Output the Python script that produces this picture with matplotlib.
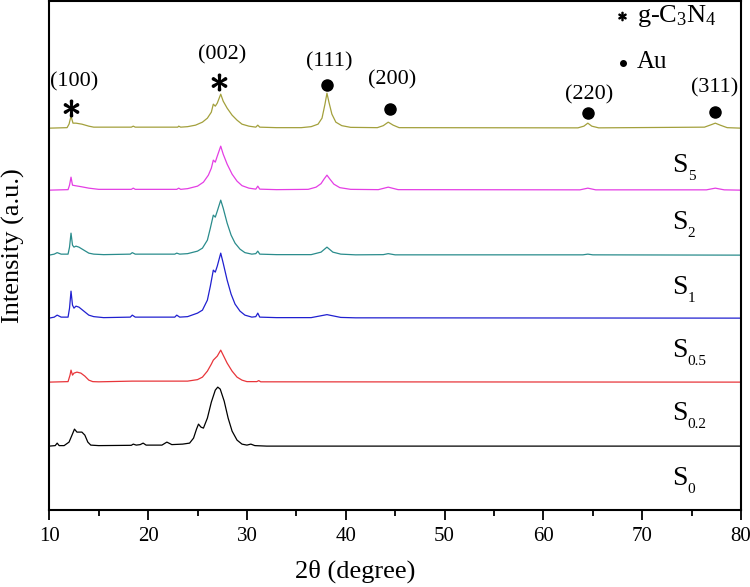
import matplotlib
matplotlib.use('Agg')
import matplotlib.pyplot as plt

plt.rcParams['font.family'] = ['Liberation Serif', 'DejaVu Serif']
plt.rcParams['mathtext.fontset'] = 'custom'
plt.rcParams['mathtext.rm'] = 'Liberation Serif'
plt.rcParams['mathtext.it'] = 'Liberation Serif:italic'

# --- XRD traces: 2theta (degree) and intensity (a.u.) ---
x_s0 = [10, 10.6, 10.8, 11.0, 11.5, 12.0, 12.3, 12.55, 12.8, 13.0, 13.3, 13.6, 13.9, 14.2, 15,
        18.3, 18.5, 18.8, 19.2, 19.5, 19.8, 21.4, 21.9, 22.4, 23.5, 24.2, 24.6, 24.9, 25.1, 25.35,
        25.6, 26.0, 26.4, 26.8, 27.05, 27.3, 27.7, 28.1, 28.5, 29.0, 29.5, 30.0, 30.4, 30.8, 32, 80]
y_s0 = [0, 0.5, 3, 0.5, 0.5, 4, 11, 17, 14, 14, 14, 11, 4, 1, 0.5,
        0.8, 2, 1, 1.5, 3, 1, 1, 4, 1.5, 2, 3, 8, 17, 22, 19,
        18, 28, 44, 56, 59, 57, 45, 28, 15, 6, 2, 1, 2, 0.5, 0, 0]

x_s05 = [10, 11.9, 12.1, 12.2, 12.35, 12.5, 12.8, 13.2, 13.6, 14.0, 14.4, 15, 18.4, 24.0, 25.0,
         25.5, 26.0, 26.4, 26.6, 26.8, 27.0, 27.35, 27.6, 28.0, 28.5, 29.0, 29.5, 30.0, 31.0, 31.2,
         31.4, 80]
y_s05 = [0, 0.5, 7, 12, 7, 9, 10, 9, 6, 2, 0.5, 0.3, 1, 1, 2.5,
         5, 11, 18, 22, 24, 26, 32, 27, 19, 11, 5, 2, 0.5, 0.5, 1.5,
         0.3, 0]

x_s1 = [10, 10.5, 10.8, 11.2, 11.9, 12.05, 12.2, 12.35, 12.5, 12.7, 13.0, 13.5, 14.0, 14.5, 15.5,
        18.2, 18.4, 18.7, 22.7, 22.9, 23.2, 24.0, 25.0, 25.5, 26.0, 26.3, 26.6, 26.8, 27.0, 27.35,
        27.6, 28.0, 28.4, 28.8, 29.3, 29.8, 30.5, 30.9, 31.1, 31.3, 33, 36.5, 38.1, 39.5, 41, 80]
y_s1 = [0, 1, 3, 1, 1, 10, 27, 13, 10, 12, 11, 7, 3, 1.5, 0.5,
        1, 3, 1, 1, 3, 1, 1.5, 5, 8, 18, 32, 48, 46, 52, 65,
        55, 38, 24, 14, 7, 3, 1, 1.5, 5, 1, 0.5, 0.5, 3.5, 0.7, 0.3, 0]

x_s2 = [10, 10.5, 10.8, 11.2, 11.9, 12.05, 12.2, 12.35, 12.5, 12.7, 13.0, 13.5, 14.0, 14.5, 15.5,
        18.2, 18.4, 18.7, 22.7, 22.9, 23.2, 24.0, 25.0, 25.5, 26.0, 26.3, 26.6, 26.8, 27.0, 27.35,
        27.6, 28.0, 28.4, 28.8, 29.3, 29.8, 30.5, 30.9, 31.1, 31.3, 33, 36.5, 37.5, 38.1, 38.7,
        39.5, 41, 43.8, 44.3, 45, 64, 64.5, 65, 80]
y_s2 = [0, 1, 2.5, 1, 1, 8, 22, 10, 8, 9, 8, 5, 2, 1, 0.5,
        1, 2.5, 1, 1, 2, 1, 1.5, 4, 7, 15, 27, 40, 38, 44, 55,
        47, 32, 20, 12, 6, 2.5, 1, 1.5, 4, 1, 0.5, 0.5, 3, 8, 3,
        1, 0.3, 0.5, 1.5, 0.3, 0.3, 1, 0.3, 0]

x_s5 = [10, 11.9, 12.05, 12.2, 12.35, 12.6, 13.2, 14.0, 15, 18.3, 18.5, 18.7, 22.9, 23.1, 23.3,
        24.0, 25.0, 25.6, 26.1, 26.4, 26.6, 26.8, 27.0, 27.35, 27.6, 28.0, 28.5, 29.0, 29.5, 30.2,
        30.9, 31.1, 31.3, 33, 36.2, 37.0, 37.5, 37.8, 38.1, 38.4, 38.8, 39.4, 40.5, 43.3, 44.3, 45.3,
        63.7, 64.5, 65.3, 76.5, 77.4, 78.3, 80]
y_s5 = [0, 0.5, 5, 13, 5, 4.5, 3.5, 2, 0.8, 0.8, 2, 0.8, 0.8, 2, 0.8,
        1.5, 4, 8, 15, 22, 30, 28, 34, 44, 36, 26, 16, 9, 4.5, 2,
        1, 4, 1, 0.5, 0.8, 3, 6.5, 11, 15, 11, 6, 2.5, 0.8, 0.5, 3, 0.5,
        0.3, 2, 0.3, 0.3, 2, 0.3, 0]

x_s10 = [10, 11.8, 12.0, 12.2, 12.4, 12.7, 13.3, 14.0, 14.5, 18.3, 18.5, 18.7, 23.0, 23.1, 23.3,
         24.0, 24.8, 25.5, 26.0, 26.4, 26.6, 26.8, 27.0, 27.35, 27.6, 28.0, 28.5, 29.0, 29.5, 30.2,
         30.9, 31.1, 31.3, 33, 35.5, 36.5, 37.2, 37.6, 37.9, 38.1, 38.3, 38.6, 39.0, 39.6, 40.5,
         43.2, 43.8, 44.3, 44.8, 45.4, 63.5, 64.1, 64.5, 64.9, 65.6, 76.3, 77.0, 77.4, 77.9, 78.6, 80]
y_s10 = [0, 0.5, 4, 12, 5, 5, 4, 2, 1, 1, 2, 1, 1, 2, 1,
         1.5, 3, 6, 10, 16, 24, 22, 25, 34, 27, 20, 13, 8, 4, 2,
         1, 3, 1, 0.5, 0.5, 1.5, 4, 10, 24, 35, 26, 14, 6, 2.5, 0.8,
         0.5, 2.5, 6, 3, 0.5, 0.3, 2, 5, 2, 0.3, 1, 3.5, 5, 3, 0.5, 0]

traces = [(x_s0, y_s0), (x_s05, y_s05), (x_s1, y_s1), (x_s2, y_s2), (x_s5, y_s5), (x_s10, y_s10)]
offsets = [64, 128, 192, 255, 320, 382]
colors = ['black', '#e8353a', '#2020d0', '#2a8c8c', '#e43ee4', '#a3a03c']

sample_names = ['S', 'S', 'S', 'S', 'S', 'S']
sample_subs = ['5', '2', '1', '0.5', '0.2', '0']
sample_label_y = [350, 293, 228, 165, 102, 37]

gcn_labels = ['(100)', '(002)']
gcn_peak_x = [12.2, 27.2]
au_labels = ['(111)', '(200)', '(220)', '(311)']
au_peak_x = [38.1, 44.5, 64.55, 77.4]

fig = plt.figure(figsize=(7.5, 5.87), dpi=100)
ax = fig.add_axes([0.0657, 0.131, 0.9223, 0.867])

for (xs, ys), off, c in zip(traces, offsets, colors):
    ax.plot(xs, [v + off for v in ys], color=c, lw=0.9)

# peak annotations
gcn_text_xy = [(12.5, 428), (27.5, 455)]
gcn_mark_y = [402, 428]
for lab, px, (tx, ty), my in zip(gcn_labels, gcn_peak_x, gcn_text_xy, gcn_mark_y):
    ax.plot(px, my, marker=r'$\ast$', color='black', ms=12, ls='none')
    ax.text(tx, ty, lab, fontsize=16, ha='center', va='center')

au_text_xy = [(38.3, 448), (44.7, 430), (64.6, 415), (77.3, 422)]
au_mark_y = [425, 401, 397, 398]
for lab, px, (tx, ty), my in zip(au_labels, au_peak_x, au_text_xy, au_mark_y):
    ax.plot(px, my, marker='o', color='black', ms=8, ls='none')
    ax.text(tx, ty, lab, fontsize=16, ha='center', va='center')

# legend-like notes
ax.plot(68.0, 494, marker=r'$\ast$', color='black', ms=6, ls='none')
ax.text(69.5, 494, r'g-C$_3$N$_4$', fontsize=19, ha='left', va='center')
ax.plot(68.1, 447, marker='o', color='black', ms=4, ls='none')
ax.text(69.5, 448, 'Au', fontsize=18, ha='left', va='center')

# sample labels
for name, sub, ly in zip(sample_names, sample_subs, sample_label_y):
    ax.text(73.0, ly - 12, name, fontsize=20, ha='left', va='baseline')
    ax.annotate(sub, xy=(73.0, ly - 12), xytext=(11.5, -6), textcoords='offset points',
                fontsize=11, ha='left', va='baseline')

ax.set_xlim(10, 80)
ax.set_ylim(0, 509)
ax.set_xticks([10, 20, 30, 40, 50, 60, 70, 80])
ax.set_xticks([15, 25, 35, 45, 55, 65, 75], minor=True)
ax.set_yticks([])
ax.tick_params(axis='x', which='major', direction='out', length=7, width=1.3, labelsize=15, pad=5)
ax.tick_params(axis='x', which='minor', direction='out', length=4, width=1.3)
for sp in ax.spines.values():
    sp.set_linewidth(1.5)

ax.set_xlabel(u'2\u03b8 (degree)', fontsize=19)
ax.xaxis.set_label_coords(0.442, -0.098)
ax.set_ylabel('Intensity (a.u.)', fontsize=19)
ax.yaxis.set_label_coords(-0.035, 0.52)

fig.savefig('out.png', dpi=100)
